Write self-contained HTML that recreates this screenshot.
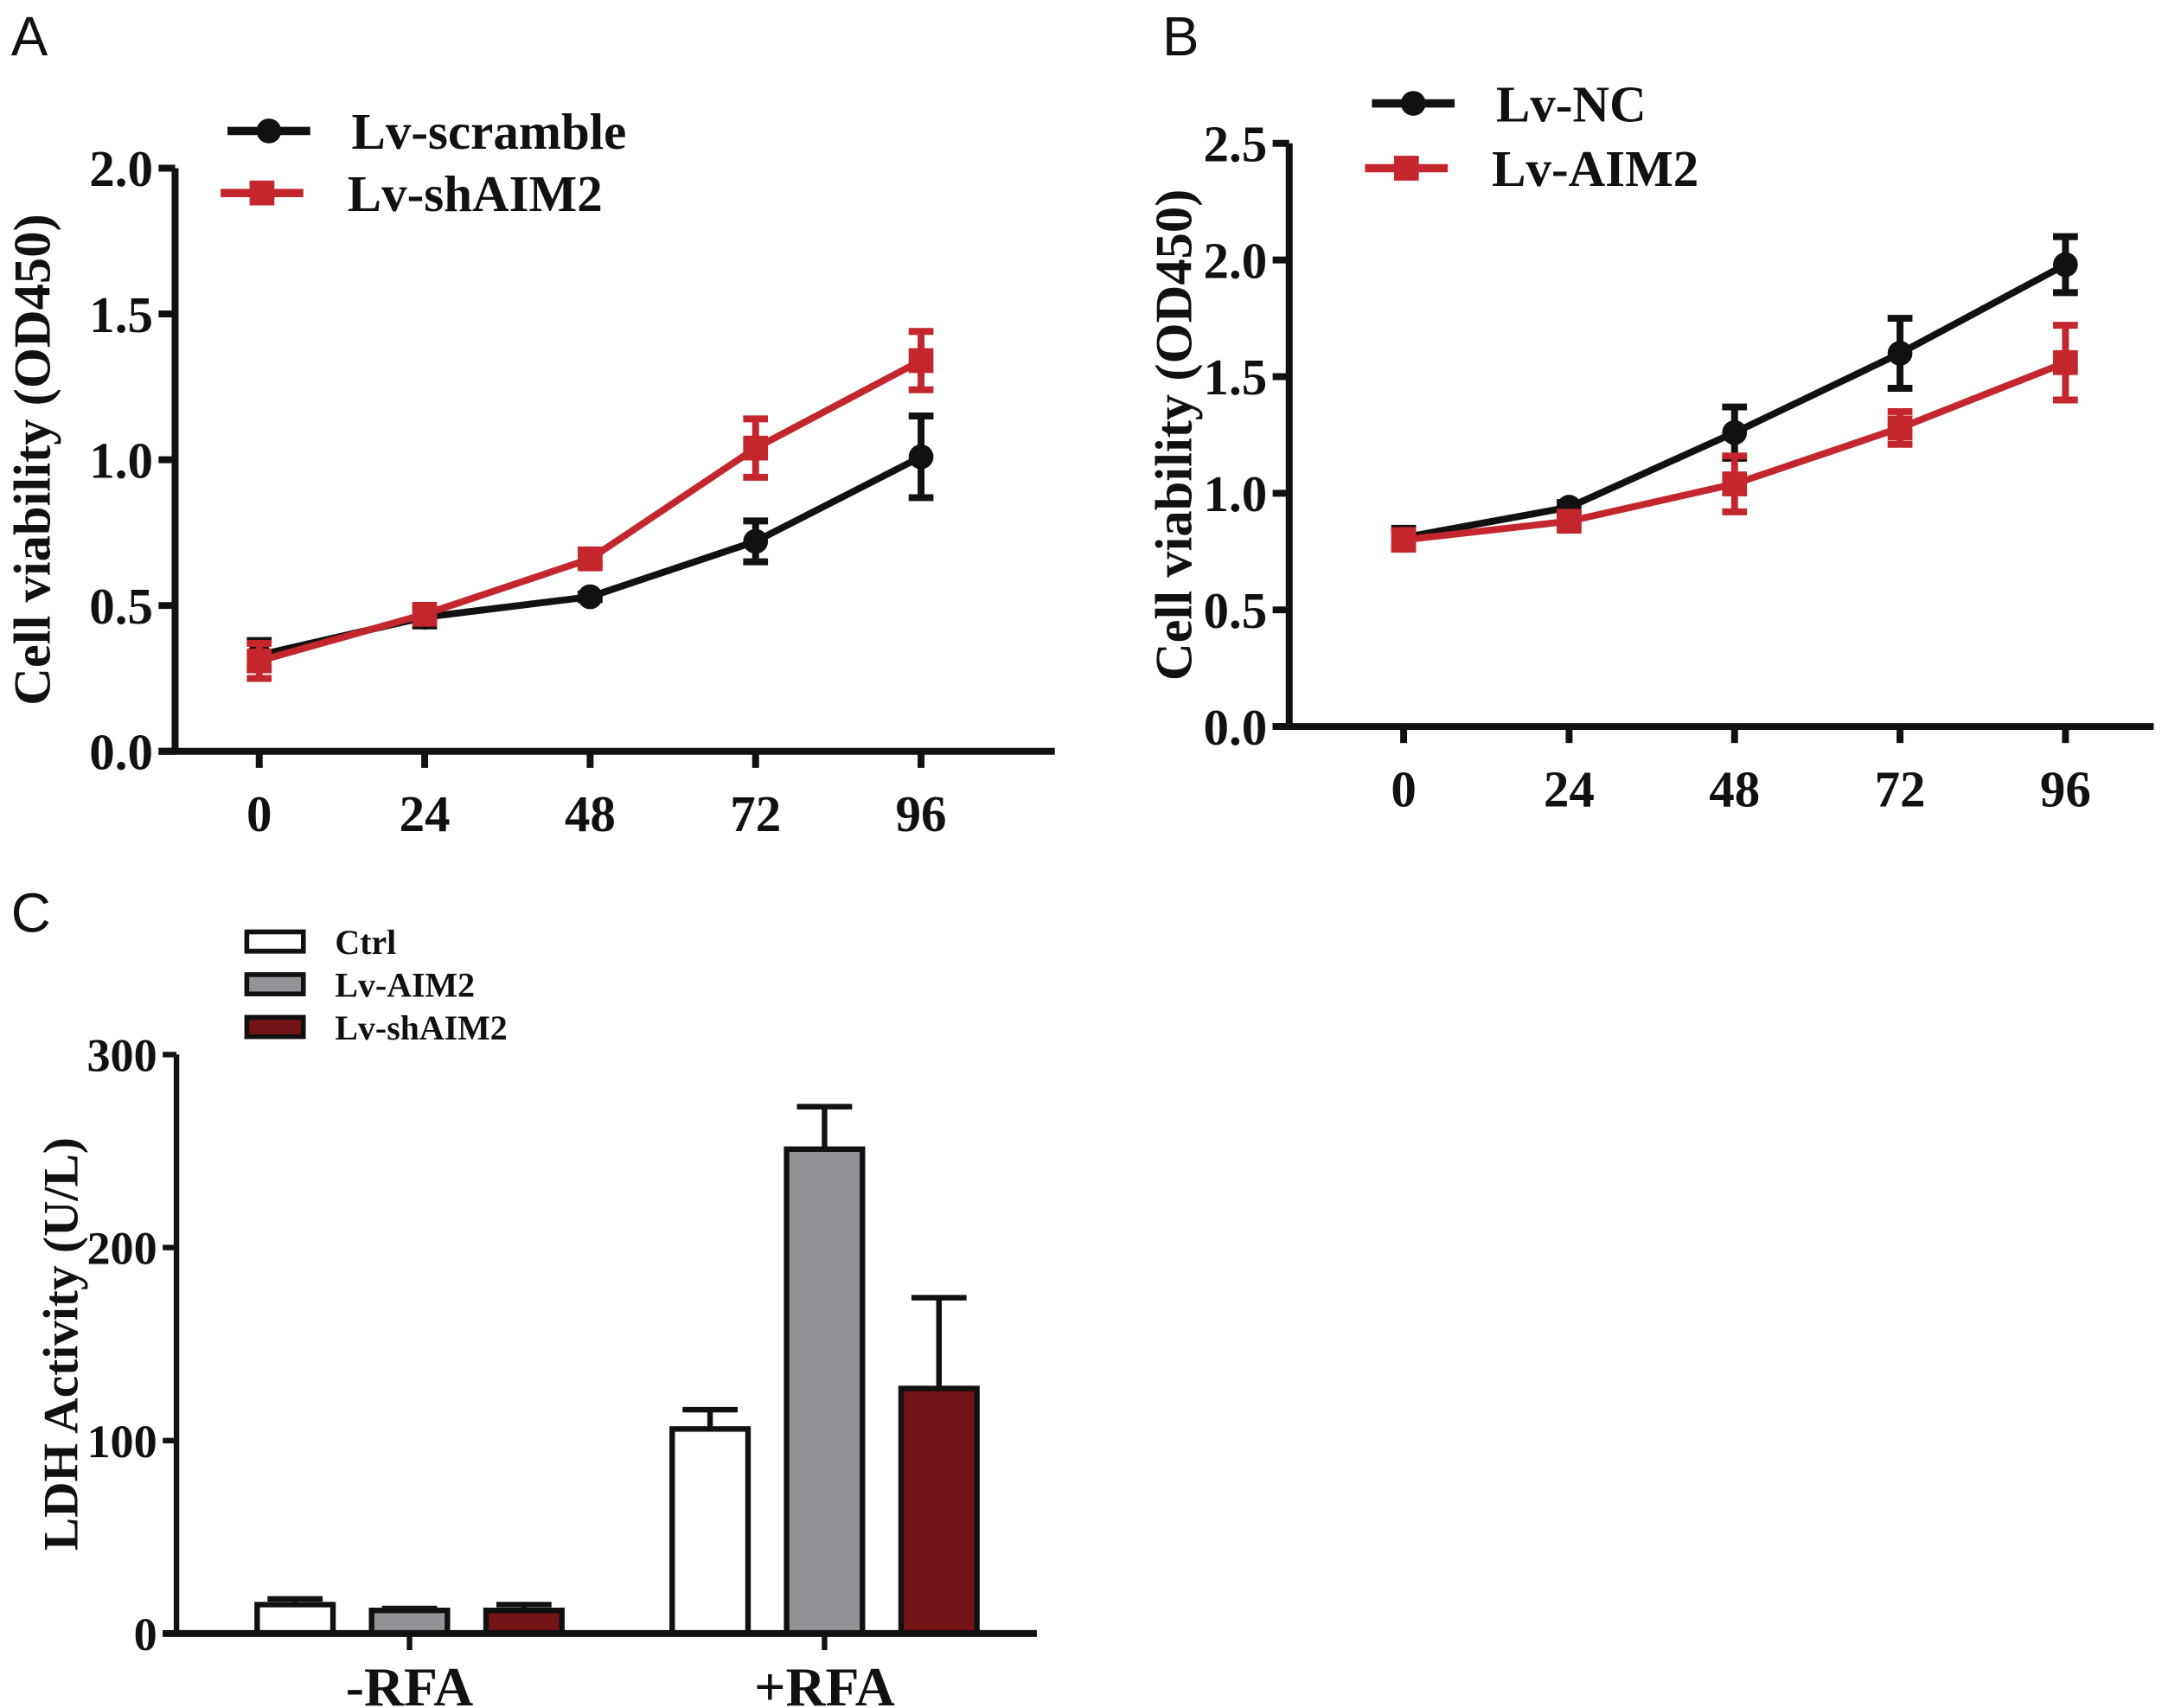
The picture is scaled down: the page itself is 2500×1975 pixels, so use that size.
<!DOCTYPE html>
<html><head><meta charset="utf-8"><style>
html,body{margin:0;padding:0;background:#fff}
svg{display:block}
text{font-family:"Liberation Serif",serif;font-weight:bold;fill:#111}
.lbl{font-family:"Liberation Sans",sans-serif;font-weight:normal}
</style></head><body>
<svg id="fig" width="2500" height="1975" viewBox="0 0 1568 1239" preserveAspectRatio="none" xmlns="http://www.w3.org/2000/svg">
<text class="lbl" x="8" y="40" font-size="40">A</text>
<text class="lbl" x="843" y="40" font-size="40">B</text>
<text class="lbl" x="8" y="676" font-size="40">C</text>
<g id="pa"></g>
<g id="pb"></g>
<g id="pc"></g>
</svg>
<script>
const NS="http://www.w3.org/2000/svg";
// Panel A data
const hoursA=[0,24,48,72,96];
const aScramble=[0.33,0.46,0.53,0.72,1.01];
const aScrambleErr=[0.05,0.03,0.01,0.07,0.14];
const aShAIM2=[0.31,0.47,0.66,1.04,1.34];
const aShAIM2Err=[0.06,0.02,0.02,0.10,0.10];
const aTicks=["0.0","0.5","1.0","1.5","2.0"];
// Panel B data
const hoursB=[0,24,48,72,96];
const bNC=[0.81,0.94,1.26,1.60,1.98];
const bNCErr=[0.04,0.02,0.11,0.15,0.12];
const bAIM2=[0.80,0.88,1.04,1.28,1.56];
const bAIM2Err=[0.04,0.02,0.12,0.07,0.16];
const bTicks=["0.0","0.5","1.0","1.5","2.0","2.5"];
// Panel C data
const cGroups=["-RFA","+RFA"];
const cSeries=["Ctrl","Lv-AIM2","Lv-shAIM2"];
const cValues=[[15,12,12],[106,251,127]];
const cErrors=[[3,1,3],[10,22,47]];
const cTicks=["0","100","200","300"];

function el(tag,attrs,parent){const e=document.createElementNS(NS,tag);for(const k in attrs)e.setAttribute(k,attrs[k]);parent.appendChild(e);return e;}
function txt(s,attrs,parent){const e=el("text",attrs,parent);e.textContent=s;return e;}

function lineChart(g,o){
  const y=v=>o.y0-(v-o.vmin)/(o.vmax-o.vmin)*(o.y0-o.yTop);
  const x=i=>o.xFirst+i*o.xStep;
  const ya=el("line",{x1:o.ax,y1:o.yTop,x2:o.ax,y2:o.y0,stroke:"#111","stroke-width":5},g);
  
  
  const xa=el("line",{x1:o.ax-12,y1:o.y0,x2:o.xEnd,y2:o.y0,stroke:"#111","stroke-width":5},g);
  
  
  o.ticks.forEach(t=>{const v=parseFloat(t);
    const l=el("line",{x1:o.ax-12,y1:y(v),x2:o.ax,y2:y(v),stroke:"#111","stroke-width":5},g);
    
    
    const tt=txt(t,{x:o.ax-16,y:y(v)+13,"font-size":37,"text-anchor":"end"},g);
    
    
  });
  o.cats.forEach((c,i)=>{
    const l=el("line",{x1:x(i),y1:o.y0,x2:x(i),y2:o.y0+12,stroke:"#111","stroke-width":5},g);
    
    
    const tt=txt(String(c),{x:x(i),y:o.y0+58,"font-size":37,"text-anchor":"middle"},g);
    
    
  });
  const yt=txt("Cell viability (OD450)",{x:0,y:0,"font-size":38,"text-anchor":"middle",transform:`translate(${o.titleX},${(o.yTop+o.y0)/2}) rotate(-90)`},g);
  
  
  o.series.forEach((s,si)=>{
    const pts=s.vals.map((v,i)=>x(i)+","+y(v)).join(" ");
    const pl=el("polyline",{points:pts,fill:"none",stroke:s.color,"stroke-width":5},g);
    
    
    s.vals.forEach((v,i)=>{
      const e=s.err[i],cx=x(i);
      const eb=el("path",{d:`M${cx},${y(v+e)}V${y(v-e)}M${cx-9},${y(v+e)}H${cx+9}M${cx-9},${y(v-e)}H${cx+9}`,stroke:s.color,"stroke-width":5,fill:"none"},g);
      
      
      let m;
      if(s.marker==="circle") m=el("circle",{cx:cx,cy:y(v),r:9,fill:s.color},g);
      else m=el("rect",{x:cx-9,y:y(v)-9,width:18,height:18,fill:s.color},g);
      
      
    });
    const lg=o.legend[si];
    const ll=el("line",{x1:lg.x,y1:lg.y,x2:lg.x+60,y2:lg.y,stroke:s.color,"stroke-width":6},g);
    
    
    let lm;
    if(s.marker==="circle") lm=el("circle",{cx:lg.x+30,cy:lg.y,r:9,fill:s.color},g);
    else lm=el("rect",{x:lg.x+21,y:lg.y-9,width:18,height:18,fill:s.color},g);
    
    
    const lt=txt(s.label,{x:lg.tx,y:lg.y+13,"font-size":37},g);
    
    
  });
}

lineChart(document.getElementById("pa"),{ax:127,y0:545,yTop:122,vmin:0,vmax:2,xFirst:188,xStep:120,xEnd:765,titleX:36,
  ticks:aTicks,cats:hoursA,
  series:[{key:"scramble",label:"Lv-scramble",vals:aScramble,err:aScrambleErr,color:"#111",marker:"circle"},
          {key:"shaim2",label:"Lv-shAIM2",vals:aShAIM2,err:aShAIM2Err,color:"#c4262e",marker:"square"}],
  legend:[{x:165,y:95,tx:255},{x:160,y:140,tx:252}]});

lineChart(document.getElementById("pb"),{ax:935,y0:527,yTop:104,vmin:0,vmax:2.5,xFirst:1018,xStep:120,xEnd:1562,titleX:864,
  ticks:bTicks,cats:hoursB,
  series:[{key:"nc",label:"Lv-NC",vals:bNC,err:bNCErr,color:"#111",marker:"circle"},
          {key:"aim2",label:"Lv-AIM2",vals:bAIM2,err:bAIM2Err,color:"#c4262e",marker:"square"}],
  legend:[{x:995,y:75,tx:1085},{x:990,y:122,tx:1082}]});

(function(){
  const g=document.getElementById("pc");
  const ax=128,y0=1185,yTop=765,vmax=300;
  const y=v=>y0-v/vmax*(y0-yTop);
  const groupX=[297,598], barW=55, barStep=83;
  const fills=["#ffffff","#939397","#741316"];
  const ya=el("line",{x1:ax,y1:yTop,x2:ax,y2:y0,stroke:"#111","stroke-width":4},g);
  
  
  cTicks.forEach(t=>{const v=+t;
    const l=el("line",{x1:ax-10,y1:y(v),x2:ax,y2:y(v),stroke:"#111","stroke-width":4},g);
    
    
    const tt=txt(t,{x:ax-14,y:y(v)+12,"font-size":34,"text-anchor":"end"},g);
    
    
  });
  const yt=txt("LDH Activity (U/L)",{x:0,y:0,"font-size":36,"text-anchor":"middle",transform:`translate(56,${(yTop+y0)/2}) rotate(-90)`},g);
  
  
  cGroups.forEach((gn,gi)=>{
    cSeries.forEach((sn,si)=>{
      const cx=groupX[gi]+(si-1)*barStep, v=cValues[gi][si], e=cErrors[gi][si];
      const eb=el("path",{d:`M${cx},${y(v)}V${y(v+e)}M${cx-20},${y(v+e)}H${cx+20}`,stroke:"#111","stroke-width":4,fill:"none"},g);
      
      
      const b=el("rect",{x:cx-barW/2,y:y(v),width:barW,height:y0-y(v),fill:fills[si],stroke:"#111","stroke-width":4},g);
      
      
    });
    const l=el("line",{x1:groupX[gi],y1:y0,x2:groupX[gi],y2:y0+12,stroke:"#111","stroke-width":4},g);
    
    
    const tt=txt(gn,{x:groupX[gi],y:y0+52,"font-size":40,"text-anchor":"middle"},g);
    
    
  });
  const xa=el("line",{x1:ax-10,y1:y0,x2:752,y2:y0,stroke:"#111","stroke-width":5},g);
  
  
  cSeries.forEach((sn,si)=>{
    const ly=676+si*31;
    const r=el("rect",{x:179,y:ly,width:41,height:14,fill:fills[si],stroke:"#111","stroke-width":3.5},g);
    
    
    const t=txt(sn,{x:243,y:ly+16,"font-size":25},g);
    
    
  });
})();
</script>
</body></html>
